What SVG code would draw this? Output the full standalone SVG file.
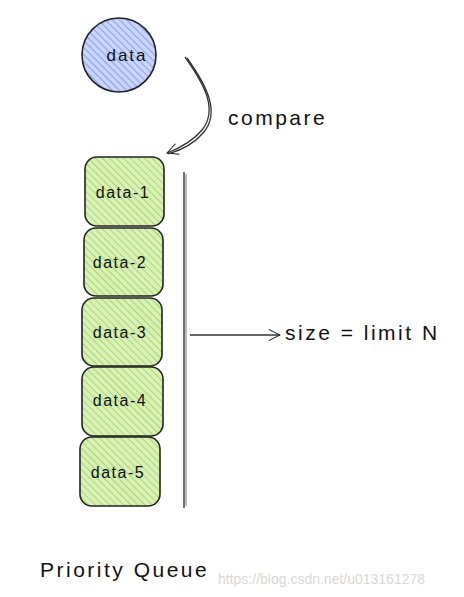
<svg xmlns="http://www.w3.org/2000/svg" width="464" height="597" viewBox="0 0 464 597">
<defs>
<pattern id="hb" width="5" height="5" patternUnits="userSpaceOnUse" patternTransform="rotate(-45)">
<rect width="5" height="5" fill="#c9d4fb"/>
<line x1="0" y1="0" x2="0" y2="5" stroke="#5c7cf0" stroke-width="1.2"/>
</pattern>
<pattern id="hg" width="5" height="5" patternUnits="userSpaceOnUse" patternTransform="rotate(-45)">
<rect width="5" height="5" fill="#d9f0b8"/>
<line x1="0" y1="0" x2="0" y2="5" stroke="#8ccf3a" stroke-width="1.3"/>
</pattern>
<marker id="ah" viewBox="0 0 20 20" refX="18" refY="10" markerWidth="14" markerHeight="14" markerUnits="userSpaceOnUse" orient="auto">
<path d="M2 2 L18 10 L2 18" fill="none" stroke="#222" stroke-width="1.5"/>
</marker>
</defs>
<style>
.box{fill:url(#hg);stroke:#222;stroke-width:1.6}
.lbl{font-family:"Liberation Sans",sans-serif;font-size:16px;letter-spacing:1.5px;fill:#111;text-anchor:middle}
.big{font-family:"Liberation Sans",sans-serif;font-size:21px;letter-spacing:2.5px;fill:#111}
.ln{fill:none;stroke:#333;stroke-width:1.3}
</style>
<rect width="464" height="597" fill="#fff"/>
<g id="data">
<circle cx="119" cy="55" r="37" fill="url(#hb)" stroke="#222" stroke-width="1.6"/>
<text class="lbl" x="127" y="61" style="font-size:17px;letter-spacing:2px">data</text>
</g>
<g id="data-1">
<rect class="box" x="85" y="157" width="79" height="69" rx="12"/>
<text class="lbl" x="123" y="198">data-1</text>
</g>
<g id="data-2">
<rect class="box" x="84" y="228" width="79" height="68" rx="12"/>
<text class="lbl" x="120" y="268">data-2</text>
</g>
<g id="data-3">
<rect class="box" x="82" y="298" width="80" height="68" rx="12"/>
<text class="lbl" x="120" y="338">data-3</text>
</g>
<g id="data-4">
<rect class="box" x="82" y="367" width="81" height="69" rx="12"/>
<text class="lbl" x="120" y="406">data-4</text>
</g>
<g id="data-5">
<rect class="box" x="80" y="437" width="80" height="69" rx="12"/>
<text class="lbl" x="118" y="478">data-5</text>
</g>
<g id="connectors">
<path class="ln" d="M185 57 C205 85 218 110 202 130 C192 142 180 148 167 153" marker-end="url(#ah)"/>
<path class="ln" d="M187 58 C207 86 220 112 204 132 C194 144 182 150 168 154"/>
<line x1="184" y1="172" x2="184" y2="508" stroke="#333" stroke-width="1.4"/>
<line x1="186" y1="174" x2="186" y2="506" stroke="#555" stroke-width="0.8"/>
<line class="ln" x1="190" y1="335" x2="280" y2="335" marker-end="url(#ah)"/>
</g>
<text class="big" x="228" y="125">compare</text>
<text class="big" x="285" y="340">size = limit N</text>
<text class="big" x="40" y="577">Priority Queue</text>
<text x="218" y="584" font-family="Liberation Sans,sans-serif" font-size="14" fill="#d8d8d8">https://blog.csdn.net/u013161278</text>
</svg>
